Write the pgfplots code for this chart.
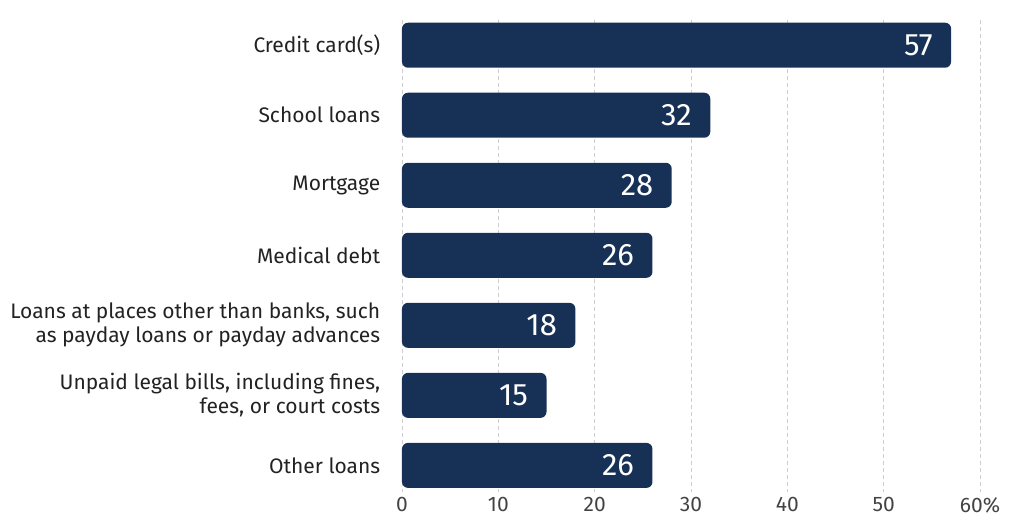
\documentclass[border=0pt]{standalone}
\usepackage{fontspec}
\setmainfont{Fira Sans}
\usepackage{pgfplots}
\pgfplotsset{compat=1.18}
\usetikzlibrary{calc}
\definecolor{navy}{HTML}{173156}
\definecolor{gridc}{HTML}{CDCDD2}
\definecolor{txt}{HTML}{222222}
\begin{document}
\begin{tikzpicture}
\begin{axis}[
  name=ax,
  scale only axis,
  width=578bp, height=472bp,
  xbar, bar width=45bp,
  xmin=0, xmax=60,
  ymin=-0.36, ymax=6.38,
  y dir=reverse,
  xtick={0,10,20,30,40,50,60},
  xticklabels={0,10,20,30,40,50,60\%},
  ytick={0,1,2,3,4,5,6},
  yticklabels={Credit card(s),School loans,Mortgage,Medical debt,{Loans at places other than banks, such\\as payday loans or payday advances},{Unpaid legal bills, including fines,\\fees, or court costs},Other loans},
  yticklabel style={align=right, font=\fontsize{21bp}{24bp}\selectfont, text=txt, xshift=-14bp},
  xticklabel style={font=\fontsize{21bp}{24bp}\selectfont, text=txt!85, yshift=-2bp},
  /pgf/number format/assume math mode=true,
  axis line style={draw=none},
  major tick style={draw=none},
  xmajorgrids,
  grid style={gridc, dash pattern=on 4bp off 3bp, line width=0.8pt},
  nodes near coords,
  nodes near coords align={anchor=east},
  every node near coord/.append style={text=white, font=\fontsize{31bp}{34bp}\selectfont, xshift=-15bp, anchor=east},
  clip=false,
]
\addplot[fill=navy, draw=none, rounded corners=6bp] coordinates {
(57,0) (32,1) (28,2) (26,3) (18,4) (15,5) (26,6)};
\end{axis}
\path[use as bounding box] ($(ax.south west)+(-402bp,-31bp)$) rectangle ($(ax.north east)+(31bp,20bp)$);
\end{tikzpicture}
\end{document}
